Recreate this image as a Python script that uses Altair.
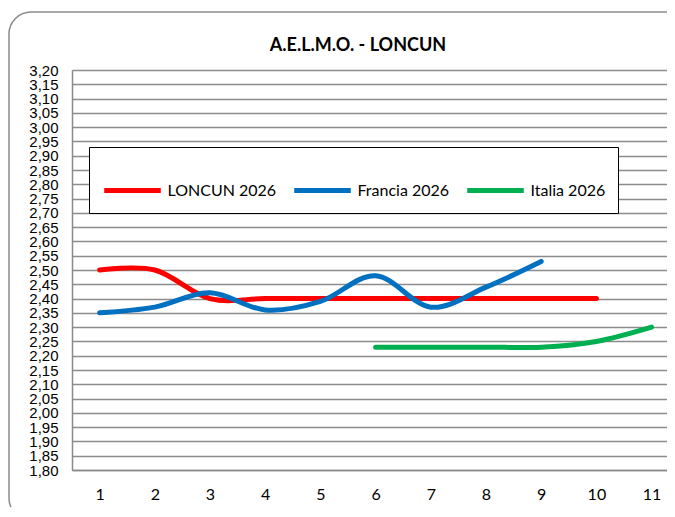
import altair as alt
import pandas as pd

# ---- data ----
series_names = ["LONCUN 2026", "Francia 2026", "Italia 2026"]
series_colors = ["#FF0000", "#0070C0", "#00B050"]

loncun_x = [1, 2, 3, 4, 5, 6, 7, 8, 9, 10]
loncun_y = [2.50, 2.50, 2.40, 2.40, 2.40, 2.40, 2.40, 2.40, 2.40, 2.40]

francia_x = [1, 2, 3, 4, 5, 6, 7, 8, 9]
francia_y = [2.35, 2.37, 2.42, 2.36, 2.39, 2.48, 2.37, 2.44, 2.53]

italia_x = [6, 7, 8, 9, 10, 11]
italia_y = [2.23, 2.23, 2.23, 2.23, 2.25, 2.30]

x_ticks = [1, 2, 3, 4, 5, 6, 7, 8, 9, 10, 11]
y_ticks = [1.80, 1.85, 1.90, 1.95, 2.00, 2.05, 2.10, 2.15, 2.20, 2.25, 2.30,
           2.35, 2.40, 2.45, 2.50, 2.55, 2.60, 2.65, 2.70, 2.75, 2.80, 2.85,
           2.90, 2.95, 3.00, 3.05, 3.10, 3.15, 3.20]

title_text = ["A.E.L.M.O. - LONCUN"]

rows = []
for name, xs, ys in zip(series_names, [loncun_x, francia_x, italia_x],
                        [loncun_y, francia_y, italia_y]):
    for xv, yv in zip(xs, ys):
        rows.append({"serie": name, "x": xv, "y": yv})
df = pd.DataFrame(rows)

W = 595
H = 400

frame = alt.Chart(alt.Data(values=[{"k": 1}])).mark_rect(
    fillOpacity=0, stroke="#8a8a8a", strokeWidth=1.5, cornerRadius=22
).encode(
    x=alt.value(-63), x2=alt.value(W + 20),
    y=alt.value(-58), y2=alt.value(H + 50)
)

title = alt.Chart(pd.DataFrame({"t": title_text})).mark_text(
    font="Lato", fontSize=18, fontWeight="bold", color="#000000",
    align="center", baseline="middle"
).encode(text="t:N", x=alt.value(286), y=alt.value(-24))

lines = alt.Chart(df).mark_line(
    interpolate="cardinal", strokeWidth=5, strokeCap="round"
).encode(
    x=alt.X("x:Q",
            scale=alt.Scale(domain=[0.5, 0.5 + W / 55.2], nice=False, zero=False),
            axis=alt.Axis(values=x_ticks, format="d", title=None, grid=False,
                          ticks=False, labelPadding=16, labelFont="Lato",
                          labelFontSize=16, labelColor="#000000",
                          domainColor="#8a8a8a", domainWidth=1.5)),
    y=alt.Y("y:Q",
            scale=alt.Scale(domain=[1.80, 3.20], nice=False, zero=False),
            axis=alt.Axis(values=y_ticks, title=None, grid=True, gridColor="#8c8c8c",
                          gridWidth=1.5, ticks=False, labelPadding=14,
                          labelOverlap=False, labelBound=False,
                          labelFont="Liberation Sans", labelFontSize=15,
                          labelColor="#000000",
                          labelExpr="replace(format(datum.value, '.2f'), '.', ',')",
                          domainColor="#8a8a8a", domainWidth=1.5)),
    color=alt.Color("serie:N",
                    scale=alt.Scale(domain=series_names, range=series_colors),
                    sort=series_names,
                    legend=alt.Legend(title=None, orient="none", legendX=17,
                                      legendY=77, direction="horizontal",
                                      symbolType="stroke", symbolSize=3200,
                                      symbolStrokeWidth=5, labelOffset=4,
                                      columnPadding=7, padding=12.5,
                                      strokeColor="#000000",
                                      fillColor="#ffffff",
                                      labelFont="Lato", labelFontSize=16,
                                      labelColor="#000000", labelLimit=300))
)

chart = alt.layer(frame, title, lines).properties(
    width=W, height=H,
    autosize=alt.AutoSizeParams(type="none"),
    padding={"left": 64, "top": 62, "right": 0, "bottom": 37},
).configure_view(stroke="transparent").configure_legend(
    strokeWidth=2
).configure(background="#ffffff")

chart.save("out.html", embed_options={"renderer": "svg", "actions": False})
